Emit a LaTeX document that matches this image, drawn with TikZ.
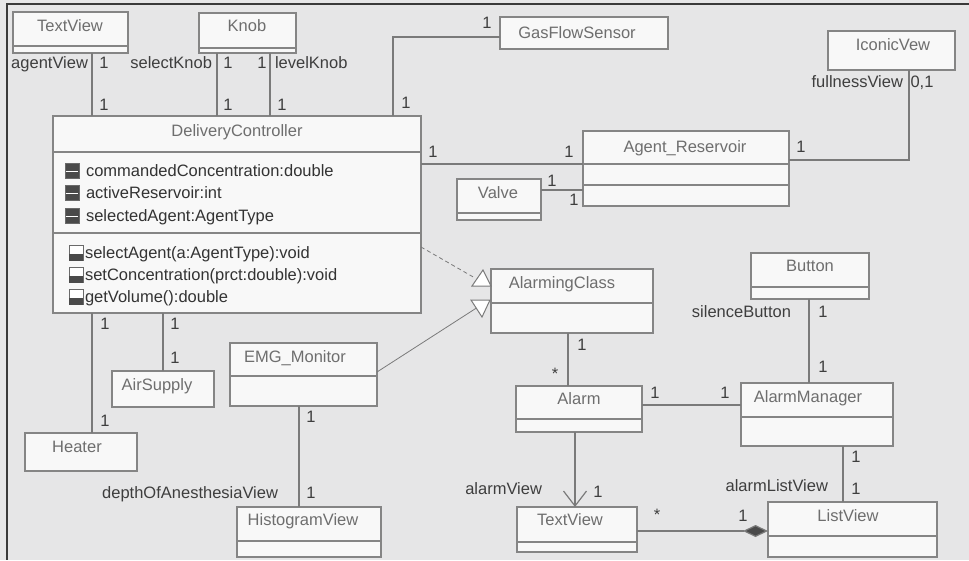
\documentclass[tikz,border=0pt]{standalone}
\usepackage{fontspec}
\setmainfont{Liberation Sans}
\usetikzlibrary{arrows.meta}

\definecolor{bgcol}{HTML}{E6E6E7}
\definecolor{boxfill}{HTML}{F8F8F8}
\definecolor{boxline}{HTML}{858585}
\definecolor{linecol}{HTML}{7A7A7A}
\definecolor{titlecol}{HTML}{6E6E6E}
\definecolor{labcol}{HTML}{3E3E3E}
\definecolor{membercol}{HTML}{333333}
\definecolor{icondark}{HTML}{4A4A4A}
\definecolor{iconedge}{HTML}{6A6A6A}
\definecolor{framecol}{HTML}{3A3A3A}

% class rectangle from its top-left (x1,y1) to bottom-right (x2,y2)
\newcommand\umlbox[5]{%
  \node[cbox, minimum width={#4pt-#2pt}, minimum height={#5pt-#3pt}] (#1) at (#2,#3) {};}
% compartment separator of a class at height y
\newcommand\umlsep[2]{\draw[sepline] (#1.west |- 0,#2) -- (#1.east |- 0,#2);}
% private attribute and operation markers
\newcommand\attricon[1]{%
  \filldraw[fill=icondark, draw=iconedge, line width=0.9pt] (65,#1-7.5) rectangle (79,#1+7.5);
  \draw[white, line width=1.4pt] (65.6,#1+0.5) -- (78.4,#1+0.5);}
\newcommand\methicon[1]{%
  \filldraw[fill=white, draw=iconedge, line width=0.9pt] (69,#1-7.5) rectangle (83,#1+7.5);
  \fill[icondark] (69,#1+0.5) rectangle (83,#1+7.5);}

\begin{document}
\begin{tikzpicture}[x=1pt, y=-1pt,
  txt/.style={font=\fontsize{16.5}{18}\selectfont, inner sep=0pt, outer sep=0pt,
              text height=11.8pt, text depth=0pt},
  cbox/.style={draw=boxline, fill=boxfill, line width=1.3pt, inner sep=0pt,
               outer sep=0pt, anchor=north west},
  sepline/.style={draw=boxline, line width=1.3pt},
  ctitle/.style={txt, text=titlecol},
  mult/.style={txt, text=labcol},
  role/.style={txt, text=labcol, anchor=east},
  rolew/.style={txt, text=labcol, anchor=west},
  member/.style={txt, text=membercol, anchor=west},
  assoc/.style={draw=linecol, line width=1.2pt},
  realize/.style={draw=linecol, line width=0.8pt, dash pattern=on 4pt off 3pt},
  inherit/.style={draw=linecol, line width=0.8pt},
  gentip/.style={draw=linecol, fill=white, line width=1pt, line join=miter}
]
\useasboundingbox (0,0) rectangle (969,560);
\fill[bgcol] (0,0) rectangle (969,560);
\draw[framecol, line width=2pt] (969,4) -- (7,4) -- (7,560);

% ---------- classes ----------
\umlbox{tvA}{13}{12}{128}{53}     \umlsep{tvA}{46}
\node[ctitle] (tvA-t) at (70,26) {TextView};

\umlbox{knob}{199}{13}{296}{53}   \umlsep{knob}{48}
\node[ctitle] (knob-t) at (247,26) {Knob};

\umlbox{gfs}{500}{17}{668}{49}
\node[ctitle] (gfs-t) at (577,33) {GasFlowSensor};

\umlbox{icv}{828}{31}{955}{70}
\node[ctitle] (icv-t) at (893,45) {IconicVew};

\umlbox{dc}{53}{116}{421}{313}    \umlsep{dc}{152} \umlsep{dc}{233}
\node[ctitle] (dc-t) at (237,131) {DeliveryController};

\umlbox{ar}{583}{131}{789}{206}   \umlsep{ar}{164} \umlsep{ar}{185}
\node[ctitle] (ar-t) at (685,147) {Agent\_Reservoir};

\umlbox{valve}{457}{179}{541}{220} \umlsep{valve}{213}
\node[ctitle] (valve-t) at (498,193) {Valve};

\umlbox{alc}{491}{269}{653}{333}  \umlsep{alc}{303}
\node[ctitle] (alc-t) at (562,283) {AlarmingClass};

\umlbox{btn}{751}{253}{869}{299}  \umlsep{btn}{287}
\node[ctitle] (btn-t) at (810,266) {Button};

\umlbox{emg}{230}{343}{377}{406}  \umlsep{emg}{376}
\node[ctitle] (emg-t) at (295,357) {EMG\_Monitor};

\umlbox{air}{112}{371}{214}{407}
\node[ctitle] (air-t) at (157,385) {AirSupply};

\umlbox{heater}{25}{433}{137}{471}
\node[ctitle] (heater-t) at (77,447) {Heater};

\umlbox{alarm}{516}{386}{642}{432} \umlsep{alarm}{419}
\node[ctitle] (alarm-t) at (579,399) {Alarm};

\umlbox{am}{741}{383}{893}{446}   \umlsep{am}{417}
\node[ctitle] (am-t) at (808,397) {AlarmManager};

\umlbox{hv}{237}{507}{381}{557}   \umlsep{hv}{541}
\node[ctitle] (hv-t) at (303,520) {HistogramView};

\umlbox{tvB}{517}{507}{637}{552}  \umlsep{tvB}{542}
\node[ctitle] (tvB-t) at (570,520) {TextView};

\umlbox{lv}{768}{502}{937}{557}   \umlsep{lv}{536}
\node[ctitle] (lv-t) at (848,516) {ListView};

% ---------- DeliveryController members ----------
\attricon{171} \node[member] (a1) at (86,171) {commandedConcentration:double};
\attricon{193} \node[member] (a2) at (86,193) {activeReservoir:int};
\attricon{216} \node[member] (a3) at (86,216) {selectedAgent:AgentType};
\methicon{253} \node[member] (o1) at (85,253) {selectAgent(a:AgentType):void};
\methicon{275} \node[member] (o2) at (85,275) {setConcentration(prct:double):void};
\methicon{297} \node[member] (o3) at (85,297) {getVolume():double};

% ---------- associations ----------
% TextView (agentView)
\draw[assoc] (tvA.south -| 92,0) -- (dc.north -| 92,0);
\node[role] (r-agv) at (88,63) {agentView};
\node[mult] (m1) at (104,63) {1};
\node[mult] (m2) at (104,105) {1};

% Knob (selectKnob / levelKnob)
\draw[assoc] (knob.south -| 217,0) -- (dc.north -| 217,0);
\draw[assoc] (knob.south -| 270,0) -- (dc.north -| 270,0);
\node[role] (r-sk) at (212,63) {selectKnob};
\node[mult] (m3) at (228,63) {1};
\node[mult] (m4) at (262,63) {1};
\node[rolew] (r-lk) at (275,63) {levelKnob};
\node[mult] (m5) at (228,105) {1};
\node[mult] (m6) at (282,105) {1};

% GasFlowSensor
\coordinate (gbend) at (393,37);
\draw[assoc] (gfs.west |- gbend) -- (gbend) -- (dc.north -| gbend);
\node[mult] (m7) at (487,23) {1};
\node[mult] (m8) at (406,103) {1};

% Agent_Reservoir
\draw[assoc] (dc.east |- 0,164) -- (ar.west |- 0,164);
\node[mult] (m9) at (433,152) {1};
\node[mult] (m10) at (569,152) {1};

% Valve
\draw[assoc] (valve.east |- 0,190) -- (ar.west |- 0,190);
\node[mult] (m11) at (552,181) {1};
\node[mult] (m12) at (574,200) {1};

% IconicVew (fullnessView)
\coordinate (ibend) at (909,160);
\draw[assoc] (ar.east |- ibend) -- (ibend) -- (icv.south -| ibend);
\node[mult] (m13) at (801,147) {1};
\node[role] (r-fv) at (903,82) {fullnessView};
\node[mult] (m14) at (922,82) {0,1};

% AirSupply and Heater
\draw[assoc] (dc.south -| 163,0) -- (air.north -| 163,0);
\node[mult] (m15) at (175,324) {1};
\node[mult] (m16) at (175,358) {1};
\draw[assoc] (dc.south -| 92,0) -- (heater.north -| 92,0);
\node[mult] (m17) at (105,324) {1};
\node[mult] (m18) at (105,421) {1};

% EMG_Monitor -- HistogramView (depthOfAnesthesiaView)
\draw[assoc] (emg.south -| 299,0) -- (hv.north -| 299,0);
\node[mult] (m19) at (311,417) {1};
\node[mult] (m20) at (311,493) {1};
\node[role] (r-doa) at (278,493) {depthOfAnesthesiaView};

% AlarmingClass -- Alarm
\draw[assoc] (alc.south -| 568,0) -- (alarm.north -| 568,0);
\node[mult] (m21) at (582,345) {1};
\node[mult] (m22) at (555,374) {*};

% Alarm -- AlarmManager
\draw[assoc] (alarm.east |- 0,405) -- (am.west |- 0,405);
\node[mult] (m23) at (655,393) {1};
\node[mult] (m24) at (725,393) {1};

% Button (silenceButton)
\draw[assoc] (btn.south -| 809,0) -- (am.north -| 809,0);
\node[role] (r-sb) at (791,312) {silenceButton};
\node[mult] (m25) at (823,312) {1};
\node[mult] (m26) at (823,367) {1};

% AlarmManager -- ListView (alarmListView)
\draw[assoc] (am.south -| 843,0) -- (lv.north -| 843,0);
\node[mult] (m27) at (856,457) {1};
\node[mult] (m28) at (856,489) {1};
\node[role] (r-alv) at (828,486) {alarmListView};

% Alarm --> TextView (alarmView)
\draw[assoc, -{Straight Barb[length=15pt, width=23pt, line width=1.2pt]}]
  (alarm.south -| 575,0) -- (tvB.north -| 575,0);
\node[role] (r-av) at (542,489) {alarmView};
\node[mult] (m29) at (598,492) {1};

% TextView -- ListView composition
\draw[assoc, -{Diamond[length=25pt, width=12pt, fill=icondark]}]
  (tvB.east |- 0,531) -- (lv.west |- 0,531);
\node[mult] (m30) at (657,515) {*};
\node[mult] (m31) at (743,516) {1};

% generalizations towards AlarmingClass
\coordinate (g1) at (475,278);
\coordinate (g2) at (478,307);
\draw[realize] (dc.east |- 0,247) -- (g1);
\draw[inherit] (emg.east |- 0,372) -- (g2);
\filldraw[gentip] (483,270) -- (491,286) -- (472,286) -- cycle;
\filldraw[gentip] (471,300) -- (490,300) -- (482,317) -- cycle;
\end{tikzpicture}
\end{document}
